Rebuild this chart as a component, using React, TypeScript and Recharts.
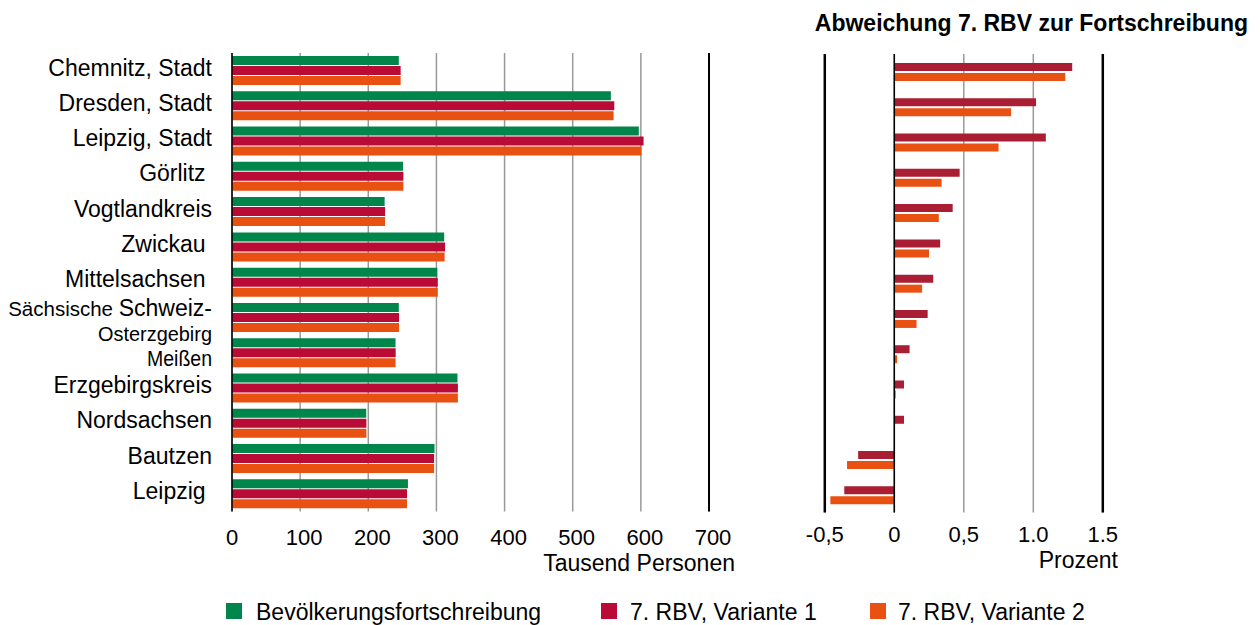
import React from 'react';
import { BarChart, Bar, XAxis, YAxis, CartesianGrid, ReferenceLine } from 'recharts';

const categories = [
  'Chemnitz, Stadt',
  'Dresden, Stadt',
  'Leipzig, Stadt',
  'Görlitz ',
  'Vogtlandkreis',
  'Zwickau ',
  'Mittelsachsen ',
  'Sächsische Schweiz-Osterzgebirg',
  'Meißen',
  'Erzgebirgskreis',
  'Nordsachsen',
  'Bautzen',
  'Leipzig ',
];
const fortschreibung = [244.8, 556, 597, 251, 224, 311.4, 301.3, 244.8, 240, 330.9, 197, 297.2, 258.2];
const variante1 = [247.5, 561, 604, 251.5, 224.6, 312.7, 302, 245.2, 240.2, 331.5, 197.2, 296.6, 256.9];
const variante2 = [247.5, 560, 601, 251.5, 224.6, 312, 302, 245.2, 240.1, 331.5, 197.2, 296.6, 256.9];
const abweichungV1 = [1.28, 1.02, 1.09, 0.47, 0.42, 0.33, 0.28, 0.24, 0.11, 0.07, 0.07, -0.26, -0.36];
const abweichungV2 = [1.23, 0.84, 0.75, 0.34, 0.32, 0.25, 0.2, 0.16, 0.02, 0.01, 0, -0.34, -0.46];
const leftTicks = [0, 100, 200, 300, 400, 500, 600, 700];
const rightTicks = [-0.5, 0, 0.5, 1, 1.5];
const rightTickLabels = ['-0,5', '0', '0,5', '1.0', '1.5'];
const seriesNames = ['Bevölkerungsfortschreibung', '7. RBV, Variante 1', '7. RBV, Variante 2'];
const titleText = 'Abweichung 7. RBV zur Fortschreibung';
const leftAxisTitle = 'Tausend Personen';
const rightAxisTitle = 'Prozent';

const GREEN = '#00854A';
const RED = '#BA0B37';
const RED_DARK = '#A91E33';
const ORANGE = '#E85112';
const FONT = "'Liberation Sans', Arial, sans-serif";

const leftData = categories.map((name, i) => ({
  name,
  f: fortschreibung[i],
  v1: variante1[i],
  v2: variante2[i],
}));
const rightData = categories.map((name, i) => ({
  name,
  a1: abweichungV1[i],
  a2: abweichungV2[i],
}));

const CategoryTick = (props: any) => {
  const { x, y, payload } = props;
  const label: string = payload.value;
  const tx = x - 12;
  if (label.indexOf('Schweiz-') >= 0) {
    const idx = label.indexOf('Schweiz-');
    const part1 = label.slice(0, idx);
    const part2 = label.slice(idx, idx + 8);
    const part3 = label.slice(idx + 8);
    return (
      <g>
        <text x={tx} y={y - 2} textAnchor="end" fill="#000" fontFamily={FONT} style={{ whiteSpace: 'pre' }}>
          <tspan fontSize={20.5}>{part1}</tspan>
          <tspan fontSize={23}>{part2}</tspan>
        </text>
        <text
          x={tx}
          y={y + 23.5}
          textAnchor="end"
          fill="#000"
          fontFamily={FONT}
          fontSize={21}
          textLength={114}
          lengthAdjust="spacingAndGlyphs"
        >
          {part3}
        </text>
      </g>
    );
  }
  if (label === 'Meißen') {
    return (
      <text
        x={tx}
        y={y + 13}
        textAnchor="end"
        fill="#000"
        fontFamily={FONT}
        fontSize={22}
        textLength={65}
        lengthAdjust="spacingAndGlyphs"
      >
        {label}
      </text>
    );
  }
  return (
    <text x={tx} y={y + 5} textAnchor="end" fill="#000" fontFamily={FONT} fontSize={23} style={{ whiteSpace: 'pre' }}>
      {label}
    </text>
  );
};

const LeftTick = (props: any) => {
  const { x, y, payload } = props;
  return (
    <text x={x + (payload.value === 0 ? 0 : 4)} y={y + 25} textAnchor="middle" fill="#000" fontFamily={FONT} fontSize={22}>
      {payload.value}
    </text>
  );
};

const RightTick = (props: any) => {
  const { x, y, payload } = props;
  const i = rightTicks.indexOf(payload.value);
  return (
    <text x={x} y={y + 21} textAnchor="middle" fill="#000" fontFamily={FONT} fontSize={22}>
      {i >= 0 ? rightTickLabels[i] : payload.value}
    </text>
  );
};

export default function App() {
  const legendColors = [GREEN, RED, ORANGE];
  const legendSquareX = [226, 601, 870];
  const legendTextX = [256, 630, 898];
  return (
    <div style={{ position: 'absolute', left: 0, top: 0, width: 1260, height: 625, background: '#fff', fontFamily: FONT }}>
      <div style={{ position: 'absolute', left: 0, top: 0 }}>
        <BarChart
          layout="vertical"
          width={760}
          height={625}
          data={leftData}
          margin={{ top: 53, right: 51, bottom: 83.4, left: 0 }}
          barSize={9}
          barGap={1}
        >
          <CartesianGrid horizontal={false} stroke="#9a9a9a" strokeWidth={1.5} />
          <XAxis
            type="number"
            domain={[0, 700]}
            ticks={leftTicks}
            interval={0}
            axisLine={false}
            tickLine={false}
            height={30}
            tick={<LeftTick />}
          />
          <YAxis
            type="category"
            dataKey="name"
            width={232}
            axisLine={false}
            tickLine={false}
            interval={0}
            tick={<CategoryTick />}
          />
          <ReferenceLine x={0} stroke="#000" strokeWidth={1.5} />
          <ReferenceLine x={700} stroke="#000" strokeWidth={2} />
          <Bar dataKey="f" fill={GREEN} isAnimationActive={false} />
          <Bar dataKey="v1" fill={RED} isAnimationActive={false} />
          <Bar dataKey="v2" fill={ORANGE} isAnimationActive={false} />
        </BarChart>
      </div>
      <div style={{ position: 'absolute', left: 760, top: 0 }}>
        <BarChart
          layout="vertical"
          width={500}
          height={625}
          data={rightData}
          margin={{ top: 54, right: 157.2, bottom: 82.4, left: 64.8 }}
          barSize={8}
          barGap={2}
        >
          <CartesianGrid horizontal={false} stroke="#9a9a9a" strokeWidth={1.5} />
          <XAxis
            type="number"
            domain={[-0.5, 1.5]}
            ticks={rightTicks}
            interval={0}
            axisLine={false}
            tickLine={false}
            height={30}
            tick={<RightTick />}
          />
          <YAxis type="category" dataKey="name" hide />
          <ReferenceLine x={-0.5} stroke="#000" strokeWidth={2.5} />
          <ReferenceLine x={0} stroke="#000" strokeWidth={1.5} />
          <ReferenceLine x={1.5} stroke="#000" strokeWidth={2.5} />
          <Bar dataKey="a1" fill={RED_DARK} isAnimationActive={false} />
          <Bar dataKey="a2" fill={ORANGE} isAnimationActive={false} />
        </BarChart>
      </div>
      <svg
        width={1260}
        height={625}
        style={{ position: 'absolute', left: 0, top: 0, pointerEvents: 'none' }}
      >
        <text x={1248} y={31} textAnchor="end" fontFamily={FONT} fontSize={23} fontWeight="bold" fill="#000">
          {titleText}
        </text>
        <text x={735} y={571} textAnchor="end" fontFamily={FONT} fontSize={23} fill="#000">
          {leftAxisTitle}
        </text>
        <text x={1118} y={568} textAnchor="end" fontFamily={FONT} fontSize={23} fill="#000">
          {rightAxisTitle}
        </text>
        {seriesNames.map((n, i) => (
          <g key={n}>
            <rect x={legendSquareX[i]} y={603} width={16} height={16} fill={legendColors[i]} />
            <text x={legendTextX[i]} y={620} fontFamily={FONT} fontSize={23} fill="#000">
              {n}
            </text>
          </g>
        ))}
      </svg>
    </div>
  );
}
